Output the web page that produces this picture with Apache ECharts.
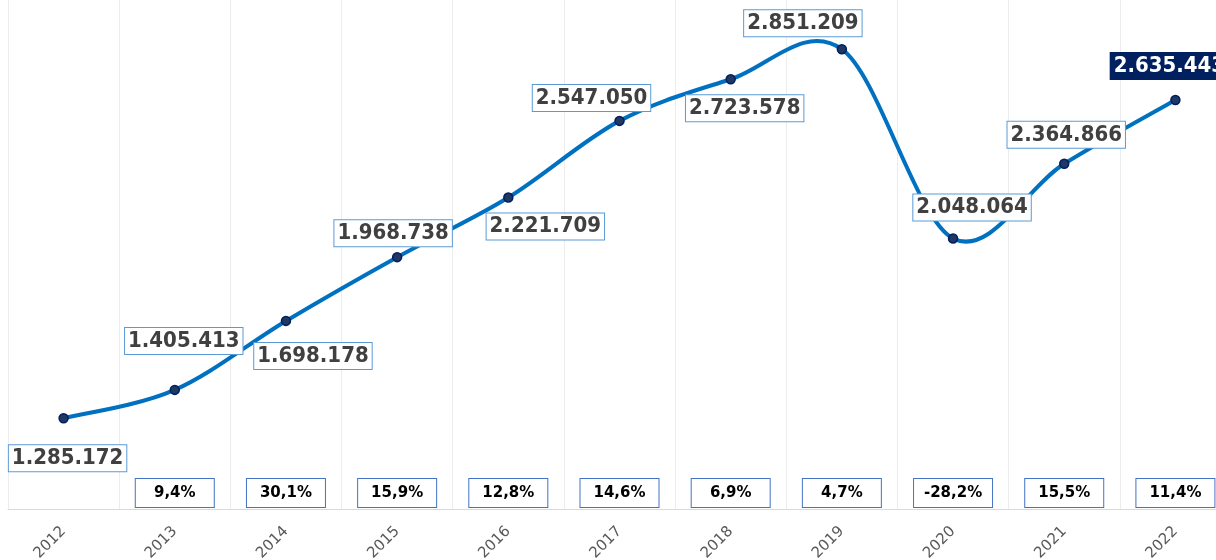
<!DOCTYPE html>
<html>
<head>
<meta charset="utf-8">
<script src="https://cdn.jsdelivr.net/npm/echarts@6/dist/echarts.min.js"></script>
<style>
html,body{margin:0;padding:0;background:#fff;}
#chart{width:1216px;height:560px;}
</style>
</head>
<body>
<div id="chart"></div>
<script>
const categories = ['2012','2013','2014','2015','2016','2017','2018','2019','2020','2021','2022'];
const values = [1285172, 1405413, 1698178, 1968738, 2221709, 2547050, 2723578, 2851209, 2048064, 2364866, 2635443];
const growth = [null, 9.4, 30.1, 15.9, 12.8, 14.6, 6.9, 4.7, -28.2, 15.5, 11.4];

// label placement (offset of label centre from point), layout only
const labelOffsets = [[4,40],[9,-49],[27,35],[-4,-24],[37,29],[-28,-23],[14,29],[-39,-26],[19,-31],[2,-29],[-6,-34]];

const FONT = '"DejaVu Sans", Verdana, sans-serif';
const FONT_C = '"DejaVu Sans Condensed", "DejaVu Sans", Verdana, sans-serif';
function fmtInt(v){ return String(v).replace(/\B(?=(\d{3})+(?!\d))/g, '.'); }
function fmtPct(v){ return v.toFixed(1).replace('.', ',') + '%'; }

const seriesData = values.map((v, i) => {
  const last = i === values.length - 1;
  return {
    value: v,
    label: {
      position: 'inside',
      offset: labelOffsets[i],
      color: last ? '#ffffff' : '#404040',
      backgroundColor: last ? '#002060' : '#ffffff',
      borderColor: last ? '#002060' : '#5B9BD5',
    }
  };
});

// smooth curve segment (Catmull-Rom -> cubic bezier) through library coordinates
function renderSegment(params, api) {
  const i = params.dataIndex;
  const n = values.length;
  if (i >= n - 1) return null;
  const pt = j => { const k = Math.max(0, Math.min(n - 1, j)); return api.coord([k, values[k]]); };
  const p0 = pt(i - 1), p1 = pt(i), p2 = pt(i + 1), p3 = pt(i + 2);
  const c1 = [p1[0] + (p2[0] - p0[0]) / 6, p1[1] + (p2[1] - p0[1]) / 6];
  const c2 = [p2[0] - (p3[0] - p1[0]) / 6, p2[1] - (p3[1] - p1[1]) / 6];
  return {
    type: 'bezierCurve',
    shape: {x1: p1[0], y1: p1[1], x2: p2[0], y2: p2[1], cpx1: c1[0], cpy1: c1[1], cpx2: c2[0], cpy2: c2[1]},
    style: {stroke: '#0070C0', lineWidth: 4, fill: null, lineCap: 'round'},
    silent: true
  };
}

const chart = echarts.init(document.getElementById('chart'), null, {renderer: 'canvas'});
chart.setOption({
  animation: false,
  backgroundColor: '#ffffff',
  grid: [
    {left: 8, right: -15, top: 0, bottom: 51, containLabel: false, outerBoundsMode: 'none'},
    {left: 8, right: -15, top: 0, bottom: 51, containLabel: false, outerBoundsMode: 'none'}
  ],
  xAxis: [
    {
      type: 'category', gridIndex: 0, data: categories, boundaryGap: true,
      axisLine: {show: true, lineStyle: {color: '#d9d9d9', width: 1}},
      axisTick: {show: false},
      splitLine: {show: true, interval: 0, lineStyle: {color: '#ececec', width: 1}},
      axisLabel: {rotate: 45, interval: 0, margin: 20, color: '#595959', fontSize: 15, fontFamily: FONT}
    },
    {
      type: 'category', gridIndex: 1, data: categories, boundaryGap: true, position: 'bottom',
      axisLine: {show: false}, axisTick: {show: false}, splitLine: {show: false},
      axisLabel: {
        inside: true, interval: 0, margin: 2,
        formatter: (val, idx) => growth[idx] == null ? '' : '{b|' + fmtPct(growth[idx]) + '}',
        rich: {
          b: {fontFamily: FONT, fontWeight: 'bold', fontSize: 15, color: '#000000',
              backgroundColor: '#ffffff', borderColor: '#4472C4', borderWidth: 1,
              padding: [7, 0, 6, 0], width: 78, align: 'center'}
        }
      }
    }
  ],
  yAxis: [
    {type: 'value', gridIndex: 0, min: 900000, max: 3060000, show: false, splitLine: {show: false}},
    {type: 'value', gridIndex: 1, min: 0, max: 1, show: false, splitLine: {show: false}}
  ],
  series: [
    {
      type: 'custom', xAxisIndex: 0, yAxisIndex: 0,
      data: values.map((v, i) => [i, v]),
      encode: {x: 0, y: 1},
      renderItem: renderSegment,
      clip: false,
      silent: true,
      z: 2
    },
    {
      type: 'line', xAxisIndex: 0, yAxisIndex: 0,
      data: seriesData,
      symbol: 'circle', symbolSize: 9,
      lineStyle: {width: 0, opacity: 0},
      itemStyle: {color: '#1F3864', borderColor: '#002060', borderWidth: 1.5},
      label: {
        show: true,
        formatter: p => fmtInt(p.value),
        fontFamily: FONT_C, fontWeight: 'bold', fontSize: 22,
        borderWidth: 1, padding: [3, 3, 1, 3]
      },
      z: 3
    },
    {type: 'line', xAxisIndex: 1, yAxisIndex: 1, data: [], silent: true}
  ]
});
</script>
</body>
</html>
